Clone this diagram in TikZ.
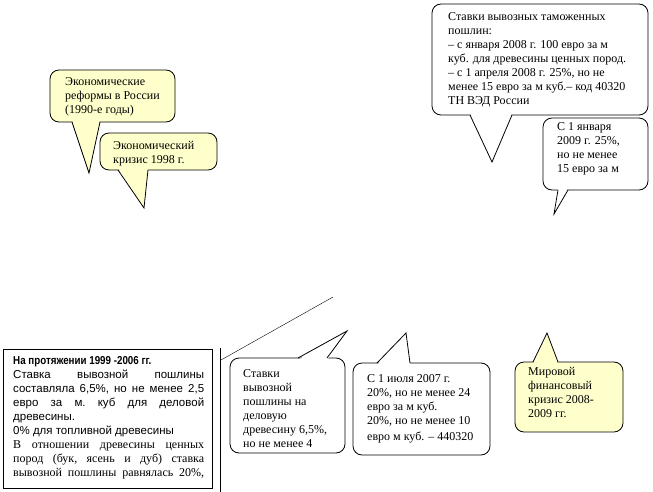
\documentclass[tikz,border=0pt]{standalone}
\usepackage{fontspec}
\usepackage{graphicx}
\setmainfont{Liberation Serif}
\setsansfont{Liberation Sans}
\newfontfamily\boxserif{Liberation Serif}
\definecolor{callyellow}{RGB}{255,255,204}
\newcommand{\serifline}[1]{\makebox[191pt][s]{\boxserif\fontsize{12}{14}\selectfont #1}}
\begin{document}
\begin{tikzpicture}[x=1pt, y=-1pt,
  callout/.style={draw=black, line width=0.8pt, rounded corners=9pt},
  tail/.style={draw=black, line width=0.8pt},
  txt/.style={anchor=north west, inner sep=0pt, align=left, font=\fontsize{12}{14}\selectfont},
  boxtxt/.style={anchor=north west, inner sep=0pt, align=left, font=\sffamily\frenchspacing\fontsize{11.5}{14}\selectfont}]
\useasboundingbox (0,0) rectangle (653,492);

\draw[callout, fill=callyellow] (50,70) rectangle (175,122);
\fill[callyellow] (72,120) -- (89,173) -- (100,120) -- cycle;
\draw[tail] (72,122) -- (89,173) -- (100,122);

\draw[callout, fill=callyellow] (100,133) rectangle (217,170);
\fill[callyellow] (118,168) -- (144,208) -- (148,168) -- cycle;
\draw[tail] (118,170) -- (144,208) -- (148,170);

\draw[callout, fill=white] (432,4) rectangle (648,115);
\fill[white] (470,113) -- (492,162) -- (512,113) -- cycle;
\draw[tail] (470,115) -- (492,162) -- (512,115);

\draw[callout, fill=white] (543,118) rectangle (648,190);
\fill[white] (558,188) -- (554,214) -- (568,188) -- cycle;
\draw[tail] (558,190) -- (554,214) -- (568,190);

\draw (3,349) rectangle (212,488);
\draw (220,348) -- (220,492);
\draw (221,360) -- (333,297);

\draw[callout, fill=white] (230,358) rectangle (345,453);
\fill[white] (298,360) -- (347,331) -- (327,360) -- cycle;
\draw[tail] (298,358) -- (347,331) -- (327,358);

\draw[callout, fill=white] (353,363) rectangle (490,455);
\fill[white] (377,365) -- (406,333) -- (410,365) -- cycle;
\draw[tail] (377,363) -- (406,333) -- (410,363);

\draw[callout, fill=callyellow] (515,362) rectangle (623,432);
\fill[callyellow] (533,364) -- (547,333) -- (558,364) -- cycle;
\draw[tail] (533,362) -- (547,333) -- (558,362);

\node[txt] at (65,77)(note1) {Экономические\\реформы в России\\(1990-е годы)};
\node[txt] at (113,141)(note2) {Экономический\\кризис 1998 г.};
\node[txt] at (448,12)(note3) {Ставки вывозных таможенных\\пошлин:\\– с января 2008 г. 100 евро за м\\куб. для древесины ценных пород.\\– с 1 апреля 2008 г. 25\%, но не\\менее 15 евро за м куб.– код 40320\\ТН ВЭД России};
\node[txt] at (557,122)(note4) {С 1 января\\2009 г. 25\%,\\но не менее\\15 евро за м};
\node[txt] at (243,369)(note5) {Ставки\\вывозной\\пошлины на\\деловую\\древесину 6,5\%,\\но не менее 4};
\node[txt] at (367,374)(note6) {С 1 июля 2007 г.\\20\%, но не менее 24\\евро за м куб.\\20\%, но не менее 10\\[2pt]евро м куб. – 440320};
\node[txt] at (528,367)(note7) {Мировой\\финансовый\\кризис 2008-\\2009 гг.};
\node[boxtxt] at (13,356)(note8) {\scalebox{0.85}[1]{\bfseries На протяжении 1999 -2006 гг.}\\
\makebox[191pt][s]{Ставка вывозной пошлины}\\
\makebox[191pt][s]{составляла 6,5\%, но не менее 2,5}\\
\makebox[191pt][s]{евро за м.\ куб для деловой}\\
древесины.\\
0\% для топливной древесины\\
\serifline{В отношении древесины ценных}\\
\serifline{пород (бук,\ ясень и дуб) ставка}\\
\serifline{вывозной пошлины равнялась 20\%,}};
\end{tikzpicture}
\end{document}
